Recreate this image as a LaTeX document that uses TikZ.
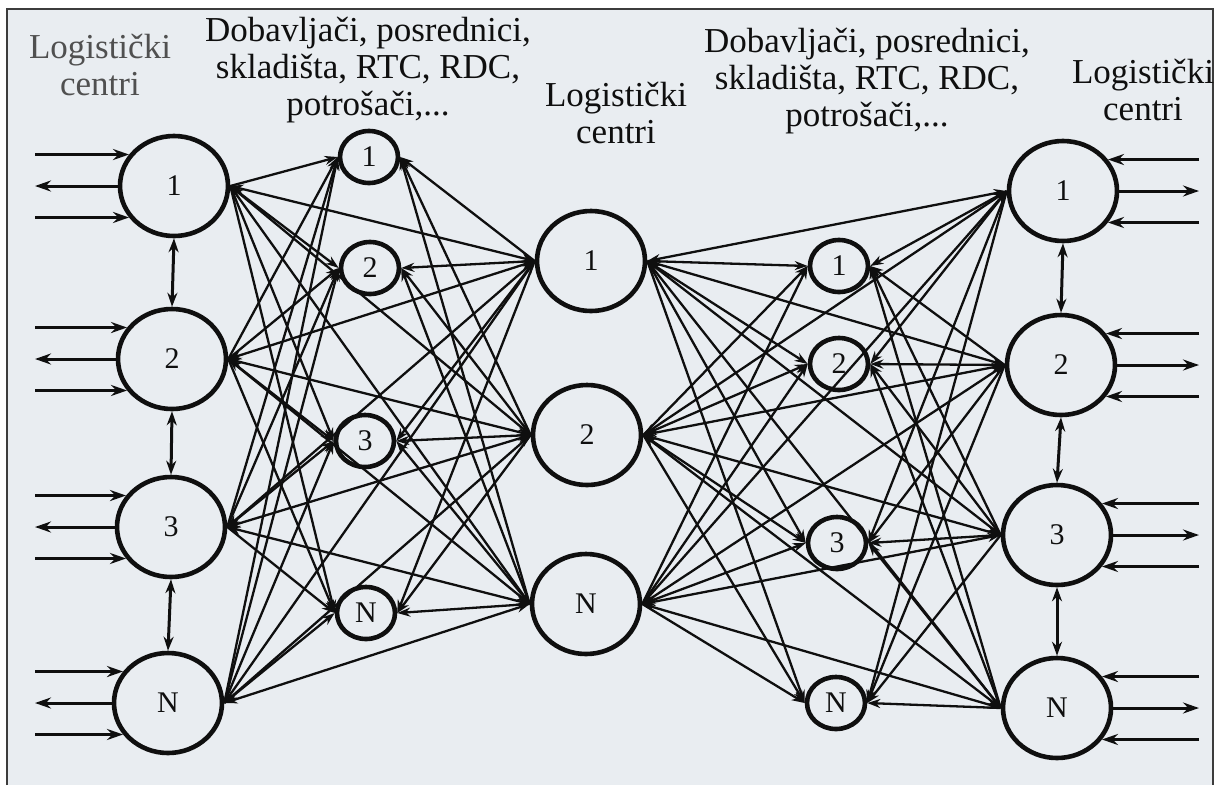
\documentclass[tikz,border=0pt]{standalone}
\usepackage{fontspec}
\setmainfont{Liberation Serif}
\usetikzlibrary{arrows.meta,shapes.geometric}
\definecolor{bgc}{RGB}{233,237,241}
\definecolor{inkc}{RGB}{15,15,15}
\definecolor{fadec}{RGB}{80,80,80}
\definecolor{framec}{RGB}{60,60,60}
\begin{document}
\begin{tikzpicture}[x=1pt,y=-1pt,
  big/.style={ellipse,draw=inkc,line width=4.6pt,minimum width=108pt,minimum height=100pt,inner sep=0pt,text=inkc,font=\fontsize{30}{30}\selectfont},
  small/.style={ellipse,draw=inkc,line width=4.6pt,minimum width=58pt,minimum height=52pt,inner sep=0pt,text=inkc,font=\fontsize{30}{30}\selectfont},
  head/.style={align=center,inner sep=0pt,text=inkc,font=\fontsize{35}{37}\selectfont},
  link/.style={draw=inkc,line width=2.3pt},
  ext/.style={draw=inkc,line width=3pt},
  toend/.style={-{Stealth[length=13pt,width=9pt]}},
  bothends/.style={{Stealth[length=13pt,width=9pt]}-{Stealth[length=13pt,width=9pt]}},
  extend/.style={-{Stealth[length=16pt,width=11pt]}},
  extboth/.style={{Stealth[length=14pt,width=10pt]}-{Stealth[length=14pt,width=10pt]}}
]
\useasboundingbox (0,0) rectangle (1218,785);
\fill[white] (0,0) rectangle (1218,785);
\fill[bgc] (7,9) rectangle (1213,785);
\draw[framec,line width=1.8pt] (7,785) -- (7,9) -- (1213,9) -- (1213,785);

% headers
\node[head,text=fadec] (hl) at (100,65) {Logistički\\centri};
\node[head] (ha) at (368,70) {Dobavljači, posrednici,\\skladišta, RTC, RDC,\\potrošači,...};
\node[head] (hc) at (616,113) {Logistički\\centri};
\node[head] (hb) at (867,81) {Dobavljači, posrednici,\\skladišta, RTC, RDC,\\potrošači,...};
\node[head] (hr) at (1143,90) {Logistički\\centri};

% nodes
\node[big] (L1) at (174,186) {1};
\node[big] (L2) at (172,359) {2};
\node[big] (L3) at (171,527) {3};
\node[big] (LN) at (168,703) {N};
\node[small] (A1) at (369,157) {1};
\node[small] (A2) at (370,268) {2};
\node[small] (A3) at (365,441) {3};
\node[small] (AN) at (366,613) {N};
\node[big] (C1) at (591,261) {1};
\node[big] (C2) at (587,435) {2};
\node[big] (CN) at (586,604) {N};
\node[small] (B1) at (839,266) {1};
\node[small] (B2) at (839,364) {2};
\node[small] (B3) at (837,543) {3};
\node[small] (BN) at (836,703) {N};
\node[big] (R1) at (1063,191) {1};
\node[big] (R2) at (1061,365) {2};
\node[big] (R3) at (1057,535) {3};
\node[big] (RN) at (1057,708) {N};

\coordinate (xl) at (35,0);
\coordinate (xr) at (1199,0);

% external arrows
\foreach \n in {L1,L2,L3,LN}{
  \draw[ext,extend] (\n.145 -| xl) -- (\n.145);
  \draw[ext,extend] (\n.west) -- (\n.west -| xl);
  \draw[ext,extend] (\n.215 -| xl) -- (\n.215);
}
\foreach \n in {R1,R2,R3,RN}{
  \draw[ext,extend] (\n.35 -| xr) -- (\n.35);
  \draw[ext,extend] (\n.east) -- (\n.east -| xr);
  \draw[ext,extend] (\n.-35 -| xr) -- (\n.-35);
}
\draw[ext,extboth] (L1.south) -- (L2.north);
\draw[ext,extboth] (L2.south) -- (L3.north);
\draw[ext,extboth] (L3.south) -- (LN.north);
\draw[ext,extboth] (R1.south) -- (R2.north);
\draw[ext,extboth] (R2.south) -- (R3.north);
\draw[ext,extboth] (R3.south) -- (RN.north);

% left network
\foreach \i in {L1,L2,L3,LN}{
  \foreach \j in {A1,A2,A3,AN}{
    \draw[link,toend] (\i.east) -- (\j.west);
  }
}
\foreach \k in {C1,C2,CN}{
  \foreach \j in {A1,A2,A3,AN}{
    \draw[link,toend] (\k.west) -- (\j.east);
  }
  \foreach \i in {L1,L2,L3,LN}{
    \draw[link,bothends] (\k.west) -- (\i.east);
  }
}
% right network
\foreach \k in {C1,C2,CN}{
  \foreach \j in {B1,B2,B3,BN}{
    \draw[link,toend] (\k.east) -- (\j.west);
  }
  \foreach \i in {R1,R2,R3,RN}{
    \draw[link,bothends] (\k.east) -- (\i.west);
  }
}
\foreach \i in {R1,R2,R3,RN}{
  \foreach \j in {B1,B2,B3,BN}{
    \draw[link,toend] (\i.west) -- (\j.east);
  }
}
\end{tikzpicture}
\end{document}
